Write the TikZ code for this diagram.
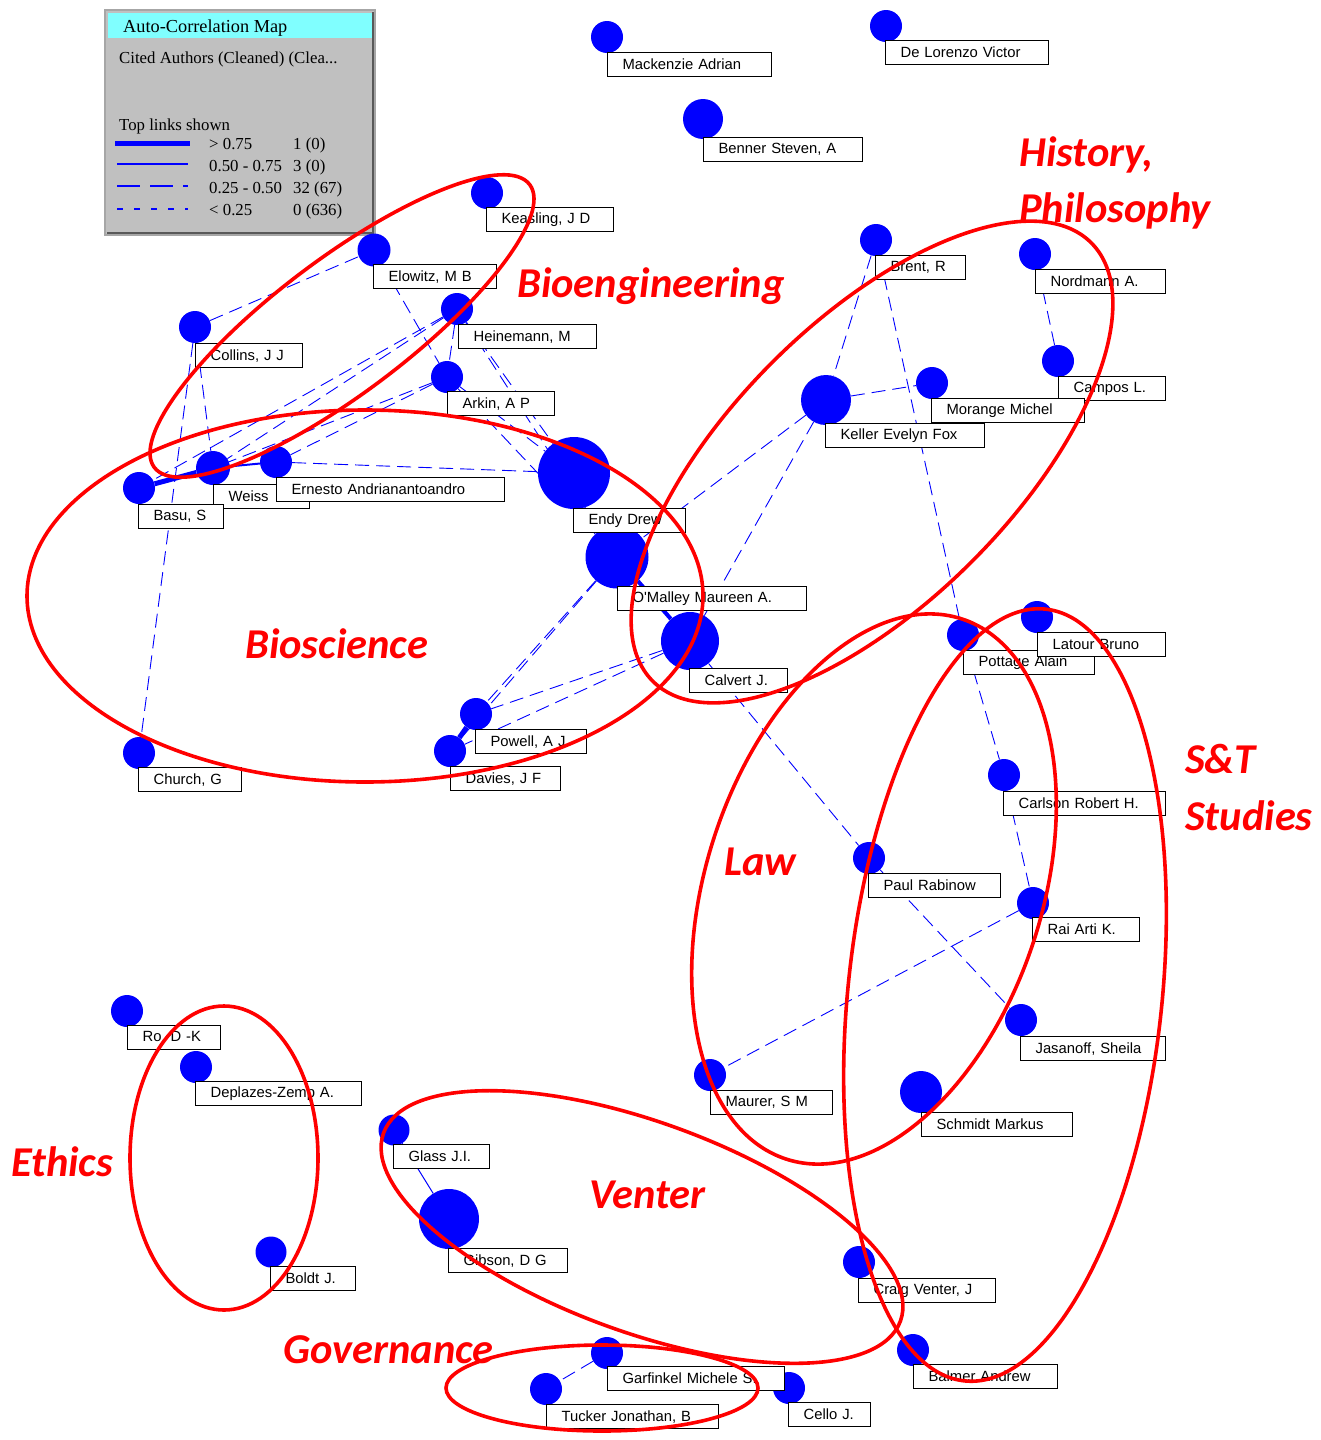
\documentclass[tikz,border=0pt]{standalone}
\usepackage{fontspec}
\setmainfont{Liberation Serif}
\newfontfamily\arialf{Liberation Sans}
\newfontfamily\calib{Carlito}
\definecolor{nodeblue}{RGB}{0,0,255}
\definecolor{legendgray}{RGB}{192,192,192}
\definecolor{headcyan}{RGB}{128,255,255}
\definecolor{ringred}{RGB}{255,0,0}
\pgfdeclarelayer{edges}
\pgfsetlayers{edges,main}
\tikzset{
  dot/.style={circle, fill=nodeblue, inner sep=0pt},
  lbl/.style={draw=black, line width=1.2pt, fill=white, anchor=north west,
    inner xsep=15pt, inner ysep=0pt, minimum height=24pt, align=left,
    font=\arialf\fontsize{14.8}{16}\selectfont},
  link/.style={draw=nodeblue, line width=0.9pt, dash pattern=on 14pt off 7pt},
  solidlink/.style={draw=nodeblue, line width=#1},
  ring/.style={draw=ringred, line width=3.6pt},
  field/.style={text=ringred, font=\calib\bfseries\itshape\fontsize{42.5}{58}\selectfont,
    inner sep=0pt, anchor=base west},
  legtext/.style={font=\fontsize{16.8}{19}\selectfont, inner sep=0pt, anchor=base west},
}
\begin{document}
\begin{tikzpicture}[x=1pt, y=-1pt]
\useasboundingbox (0,0) rectangle (1320,1440);

% ---------- legend ----------
\fill[legendgray] (105,10) rectangle (375,235);
\draw[gray!70, line width=1.5pt] (105,10) rectangle (375,235);
\draw[black!65, line width=1.5pt] (373,12) -- (373,233) -- (107,233);
\fill[headcyan] (108,13) rectangle (372,38);
\node[legtext, font=\fontsize{18.3}{20}\selectfont] (legtitle) at (123,32) {Auto-Correlation Map};
\node[legtext] (legsub) at (119,63) {Cited Authors (Cleaned) (Clea...};
\node[legtext] (legtop) at (119,130) {Top links shown};
\draw[nodeblue, line width=5pt] (115,143) -- (190,143);
\draw[nodeblue, line width=1.5pt] (117,164) -- (188,164);
\draw[nodeblue, line width=1.2pt, dash pattern=on 23pt off 10pt] (117,186) -- (188,186);
\draw[nodeblue, line width=1.2pt, dash pattern=on 6pt off 11pt] (117,209) -- (188,209);
\node[legtext] (lr1a) at (209,149) {> 0.75};
\node[legtext] (lr1b) at (293,149) {1 (0)};
\node[legtext] (lr2a) at (209,171) {0.50 - 0.75};
\node[legtext] (lr2b) at (293,171) {3 (0)};
\node[legtext] (lr3a) at (209,193) {0.25 - 0.50};
\node[legtext] (lr3b) at (293,193) {32 (67)};
\node[legtext] (lr4a) at (209,215) {< 0.25};
\node[legtext] (lr4b) at (293,215) {0 (636)};

% ---------- author circles ----------
\node[dot, minimum size=32pt] (mack) at (607,37) {};
\node[dot, minimum size=32pt] (delo) at (886,26) {};
\node[dot, minimum size=40pt] (benn) at (703,119) {};
\node[dot, minimum size=32pt] (keas) at (487,193) {};
\node[dot, minimum size=33pt] (elow) at (374,250) {};
\node[dot, minimum size=32pt] (hein) at (457,309) {};
\node[dot, minimum size=32pt] (coll) at (195,327) {};
\node[dot, minimum size=32pt] (arki) at (447,377) {};
\node[dot, minimum size=72pt] (endy) at (574,473) {};
\node[dot, minimum size=32pt] (erne) at (276,462) {};
\node[dot, minimum size=34pt] (weis) at (213,468) {};
\node[dot, minimum size=32pt] (basu) at (139,488) {};
\node[dot, minimum size=63pt] (omal) at (617,557) {};
\node[dot, minimum size=58pt] (calv) at (690,641) {};
\node[dot, minimum size=32pt] (powe) at (476,714) {};
\node[dot, minimum size=32pt] (davi) at (450,751) {};
\node[dot, minimum size=32pt] (chur) at (139,753) {};
\node[dot, minimum size=32pt] (bren) at (876,240) {};
\node[dot, minimum size=32pt] (nord) at (1035,254) {};
\node[dot, minimum size=32pt] (camp) at (1058,361) {};
\node[dot, minimum size=32pt] (mora) at (932,383) {};
\node[dot, minimum size=50pt] (kell) at (826,400) {};
\node[dot, minimum size=32pt] (pott) at (963,635) {};
\node[dot, minimum size=32pt] (lato) at (1037,617) {};
\node[dot, minimum size=32pt] (carl) at (1004,775) {};
\node[dot, minimum size=32pt] (rabi) at (869,858) {};
\node[dot, minimum size=32pt] (rai) at (1033,903) {};
\node[dot, minimum size=32pt] (jasa) at (1021,1020) {};
\node[dot, minimum size=32pt] (maur) at (710,1075) {};
\node[dot, minimum size=42pt] (schm) at (921,1092) {};
\node[dot, minimum size=32pt] (ro) at (127,1011) {};
\node[dot, minimum size=32pt] (depl) at (196,1067) {};
\node[dot, minimum size=31pt] (bold) at (271,1252) {};
\node[dot, minimum size=31pt] (glas) at (394,1130) {};
\node[dot, minimum size=60pt] (gibs) at (449,1219) {};
\node[dot, minimum size=32pt] (crai) at (859,1262) {};
\node[dot, minimum size=32pt] (balm) at (913,1350) {};
\node[dot, minimum size=32pt] (garf) at (607,1353) {};
\node[dot, minimum size=32pt] (tuck) at (546,1389) {};
\node[dot, minimum size=32pt] (cell) at (789,1388) {};

% ---------- labels ----------
\node[lbl, text width=134pt] (mack-l) at (607,52) {\mbox{Mackenzie Adrian}};
\node[lbl, text width=133pt] (delo-l) at (885,40) {\mbox{De Lorenzo Victor}};
\node[lbl, text width=129pt] (benn-l) at (703,137) {\mbox{Benner Steven, A}};
\node[lbl, text width=97pt] (keas-l) at (486,207) {\mbox{Keasling, J D}};
\node[lbl, text width=93pt] (elow-l) at (373,264) {\mbox{Elowitz, M B}};
\node[lbl, text width=108pt] (hein-l) at (458,324) {\mbox{Heinemann, M}};
\node[lbl, text width=77pt] (coll-l) at (195,343) {\mbox{Collins, J J}};
\node[lbl, text width=77pt] (arki-l) at (447,391) {\mbox{Arkin, A P}};
\node[lbl, text width=82pt] (endy-l) at (573,508) {\mbox{Endy Drew}};
\node[lbl, text width=66pt] (weis-l) at (213,484) {\mbox{Weiss}};
\node[lbl, text width=198pt] (erne-l) at (276,477) {\mbox{Ernesto Andrianantoandro}};
\node[lbl, text width=55pt] (basu-l) at (138,504) {\mbox{Basu, S}};
\node[lbl, text width=159pt] (omal-l) at (617,586) {\mbox{O'Malley Maureen A.}};
\node[lbl, text width=68pt] (calv-l) at (689,668) {\mbox{Calvert J.}};
\node[lbl, text width=81pt] (powe-l) at (475,729) {\mbox{Powell, A J}};
\node[lbl, text width=80pt] (davi-l) at (450,766) {\mbox{Davies, J F}};
\node[lbl, text width=73pt] (chur-l) at (138,767) {\mbox{Church, G}};
\node[lbl, text width=60pt] (bren-l) at (875,255) {\mbox{Brent, R}};
\node[lbl, text width=100pt] (nord-l) at (1035,269) {\mbox{Nordmann A.}};
\node[lbl, text width=77pt] (camp-l) at (1058,376) {\mbox{Campos L.}};
\node[lbl, text width=123pt] (mora-l) at (931,398) {\mbox{Morange Michel}};
\node[lbl, text width=129pt] (kell-l) at (825,423) {\mbox{Keller Evelyn Fox}};
\node[lbl, text width=101pt] (pott-l) at (963,650) {\mbox{Pottage Alain}};
\node[lbl, text width=98pt] (lato-l) at (1037,632) {\mbox{Latour Bruno}};
\node[lbl, text width=132pt] (carl-l) at (1003,791) {\mbox{Carlson Robert H.}};
\node[lbl, text width=102pt] (rabi-l) at (868,873) {\mbox{Paul Rabinow}};
\node[lbl, text width=77pt] (rai-l) at (1032,917) {\mbox{Rai Arti K.}};
\node[lbl, text width=115pt] (jasa-l) at (1020,1036) {\mbox{Jasanoff, Sheila}};
\node[lbl, text width=92pt] (maur-l) at (710,1090) {\mbox{Maurer, S M}};
\node[lbl, text width=121pt] (schm-l) at (921,1112) {\mbox{Schmidt Markus}};
\node[lbl, text width=63pt] (ro-l) at (127,1025) {\mbox{Ro, D -K}};
\node[lbl, text width=136pt] (depl-l) at (195,1081) {\mbox{Deplazes-Zemp A.}};
\node[lbl, text width=55pt] (bold-l) at (270,1266) {\mbox{Boldt J.}};
\node[lbl, text width=66pt] (glas-l) at (393,1144) {\mbox{Glass J.I.}};
\node[lbl, text width=89pt] (gibs-l) at (448,1248) {\mbox{Gibson, D G}};
\node[lbl, text width=107pt] (crai-l) at (858,1278) {\mbox{Craig Venter, J}};
\node[lbl, text width=114pt] (balm-l) at (913,1364) {\mbox{Balmer Andrew}};
\node[lbl, text width=147pt] (garf-l) at (607,1366) {\mbox{Garfinkel Michele S.}};
\node[lbl, text width=142pt] (tuck-l) at (546,1404) {\mbox{Tucker Jonathan, B}};
\node[lbl, text width=52pt] (cell-l) at (788,1402) {\mbox{Cello J.}};

% ---------- links ----------
\begin{pgfonlayer}{edges}
\foreach \a/\b in {coll/elow, coll/weis, coll/chur, elow/arki, hein/arki, hein/weis,
  hein/basu, arki/weis, arki/erne, erne/endy, hein/endy, hein/omal, arki/endy,
  arki/omal, omal/powe, omal/davi, calv/powe, calv/davi, kell/omal, kell/calv,
  bren/kell, bren/pott, kell/mora, nord/camp, calv/rabi, rabi/jasa, pott/carl,
  carl/rai, rai/maur, garf/tuck}
  \draw[link] (\a) -- (\b);
\draw[solidlink=5pt] (basu) -- (weis);
\draw[solidlink=5pt] (powe) -- (davi);
\draw[solidlink=4pt] (omal) -- (calv);
\draw[solidlink=2pt] (weis) -- (erne);
\draw[solidlink=1pt] (glas) -- (gibs);
\end{pgfonlayer}

% ---------- field rings ----------
\draw[ring, rotate around={37:(342,326)}] (342,326) ellipse [x radius=235pt, y radius=67pt];
\draw[ring] (365,596) ellipse [x radius=338pt, y radius=186pt];
\draw[ring, rotate around={45:(872,462)}] (872,462) ellipse [x radius=310pt, y radius=141pt];
\draw[ring, rotate around={72:(874,889)}] (874,889) ellipse [x radius=284pt, y radius=168pt];
\draw[ring, rotate around={84:(1005,995)}] (1005,995) ellipse [x radius=388pt, y radius=157pt];
\draw[ring, rotate around={-20:(642,1227)}] (642,1227) ellipse [x radius=275pt, y radius=105pt];
\draw[ring] (224,1158) ellipse [x radius=94pt, y radius=152pt];
\draw[ring] (602,1388) ellipse [x radius=156pt, y radius=43pt];

% ---------- field names ----------
\node[field] (f-bioeng) at (517,297) {Bioengineering};
\node[field] (f-hist) at (1019,166) {History,};
\node[field] (f-phil) at (1019,222) {Philosophy};
\node[field] (f-biosci) at (245,658) {Bioscience};
\node[field] (f-law) at (724,875) {Law};
\node[field] (f-st) at (1185,773) {S\&T};
\node[field] (f-stud) at (1185,830) {Studies};
\node[field] (f-eth) at (11,1176) {Ethics};
\node[field] (f-vent) at (589,1208) {Venter};
\node[field] (f-gov) at (283,1363) {Governance};
\end{tikzpicture}
\end{document}
